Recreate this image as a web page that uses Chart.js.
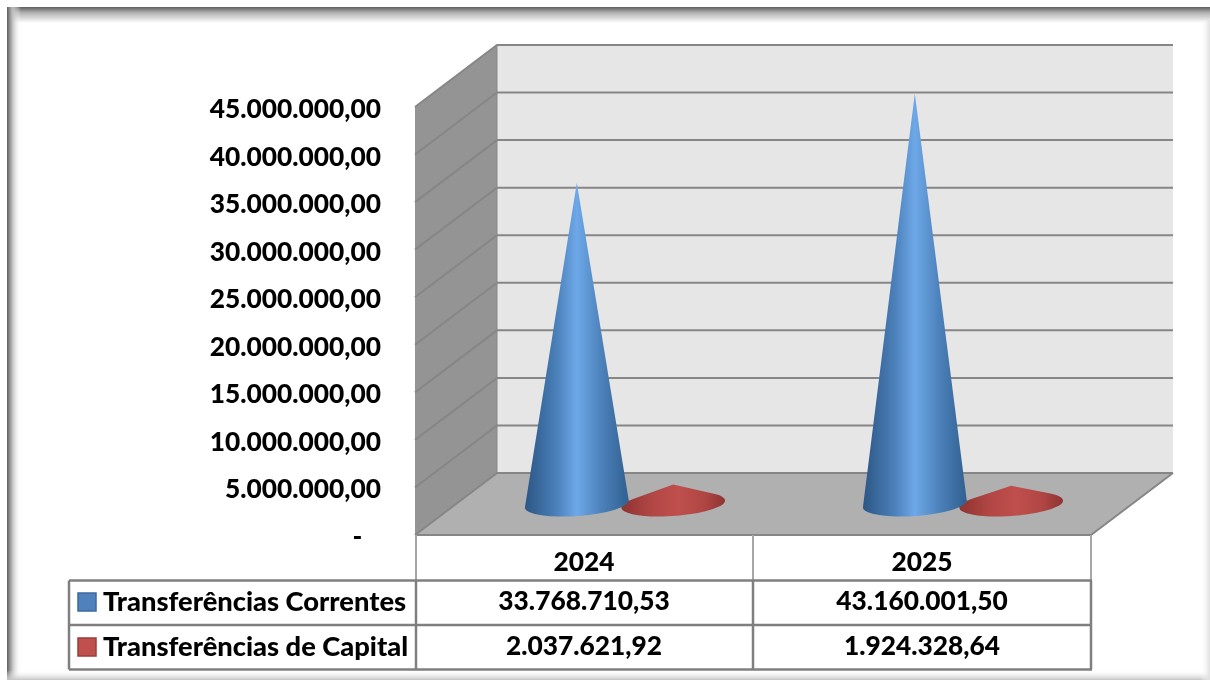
<!DOCTYPE html>
<html lang="pt">
<head>
<meta charset="utf-8">
<script src="https://cdn.jsdelivr.net/npm/chart.js@4"></script>
<style>
html,body{margin:0;padding:0;background:#fff;overflow:hidden}
#wrap{width:1210px;height:680px;position:relative}
canvas{display:block}
</style>
</head>
<body>
<div id="wrap"><canvas id="c" width="1210" height="680"></canvas></div>
<script>
const categories = ["2024", "2025"];
const seriesNames = ["Transferências Correntes", "Transferências de Capital"];
const correntes = [33768710.53, 43160001.50];
const capital = [2037621.92, 1924328.64];
const tickStep = 5000000;
const axisMax = 45000000;
const FONT = 'Lato, "Open Sans", sans-serif';
const depth = {x: 82, y: -62};
const gradStops = [
  [["#2c5684",0],["#4a7fb8",.3],["#6ea8e8",.5],["#4a7fb8",.75],["#30608f",1]],
  [["#8e3331",0],["#b24745",.3],["#bf4f4c",.55],["#b04644",.8],["#8e3433",1]]
];
function fmt(v){
  if(v===0) return "-\u00a0\u00a0\u00a0";
  const p = v.toFixed(2).split(".");
  return p[0].replace(/\B(?=(\d{3})+$)/g,".")+","+p[1];
}
function drawCone(ctx,cx,cy,rx,ry,apexY,stops){
  const rot = -4*Math.PI/180;
  const cs=Math.cos(-rot), sn=Math.sin(-rot);
  const dx=0, dy=apexY-cy;
  const lx=dx*cs-dy*sn, ly=dx*sn+dy*cs;
  const px=lx/rx, py=ly/ry, d=Math.hypot(px,py), base=Math.atan2(py,px), del=Math.acos(Math.min(1,1/d));
  const t1=base+del, t2=base-del+2*Math.PI;
  ctx.save();
  const g=ctx.createLinearGradient(cx-rx,0,cx+rx,0);
  stops.forEach(s=>g.addColorStop(s[1],s[0]));
  ctx.fillStyle=g;
  ctx.beginPath();
  ctx.ellipse(cx,cy,rx,ry,rot,t1,t2,false);
  ctx.lineTo(cx,apexY);
  ctx.closePath();
  ctx.fill();
  ctx.restore();
}
const scenePlugin = {
  id:"scene",
  afterLayout(chart){
    // the reference draws the value labels a little below their grid lines
    chart.scales.y.getLabelItems().forEach(it=>{it.options.translation[1]+=2.5;});
  },
  beforeDraw(chart){
    const c=chart.ctx, W=chart.width, H=chart.height;
    c.save();
    c.fillStyle="#fff"; c.fillRect(0,0,W,H);
    let g=c.createLinearGradient(0,7,0,23);
    g.addColorStop(0,"#5e5e5e"); g.addColorStop(.35,"#b0b0b0"); g.addColorStop(1,"#fff");
    c.fillStyle=g; c.fillRect(7,7,W-7,16);
    g=c.createLinearGradient(7,0,21,0);
    g.addColorStop(0,"#5e5e5e"); g.addColorStop(.35,"#b8b8b8"); g.addColorStop(1,"rgba(255,255,255,0)");
    c.fillStyle=g; c.fillRect(7,7,14,H-7);
    g=c.createLinearGradient(0,670,0,680);
    g.addColorStop(0,"rgba(255,255,255,0)"); g.addColorStop(1,"#c4c4c4");
    c.fillStyle=g; c.fillRect(7,670,W-7,10);
    g=c.createLinearGradient(1200,0,1210,0);
    g.addColorStop(0,"rgba(255,255,255,0)"); g.addColorStop(1,"#e0e0e0");
    c.fillStyle=g; c.fillRect(1200,20,10,660);
    c.fillStyle="#fff"; c.fillRect(0,0,7,H);

    const y=chart.scales.y, x=chart.scales.x;
    const L=chart.chartArea.left, R=chart.chartArea.right, T=y.getPixelForValue(axisMax), B=y.getPixelForValue(0);
    const dx=depth.x, dy=depth.y;
    c.fillStyle="#e6e6e6"; c.fillRect(L+dx,T+dy,R-L,B-T);
    c.fillStyle="#949494";
    c.beginPath(); c.moveTo(L,T); c.lineTo(L+dx,T+dy); c.lineTo(L+dx,B+dy); c.lineTo(L,B); c.closePath(); c.fill();
    c.fillStyle="#b0b0b0";
    c.beginPath(); c.moveTo(L,B); c.lineTo(L+dx,B+dy); c.lineTo(R+dx,B+dy); c.lineTo(R,B); c.closePath(); c.fill();
    c.lineWidth=2; c.strokeStyle="#868686";
    y.ticks.forEach(t=>{
      const p=y.getPixelForValue(t.value);
      c.beginPath(); c.moveTo(L,p); c.lineTo(L+dx,p+dy); c.lineTo(R+dx,p+dy); c.stroke();
    });
    c.beginPath(); c.moveTo(R,B); c.lineTo(R+dx,B+dy); c.stroke();
    c.beginPath(); c.moveTo(L,B); c.lineTo(R,B); c.stroke();
    c.lineWidth=1; c.strokeStyle="#888";
    c.beginPath(); c.moveTo(L+dx,T+dy); c.lineTo(L+dx,B+dy); c.stroke();

    const rows=[580.5,625,669.5], left=69;
    const mid=x.getPixelForValue(0)+(x.getPixelForValue(1)-x.getPixelForValue(0))/2;
    c.strokeStyle="#a6a6a6"; c.lineWidth=2;
    [L+1,mid,R].forEach(v=>{c.beginPath();c.moveTo(v,B);c.lineTo(v,rows[0]);c.stroke();});
    c.strokeStyle="#7f7f7f"; c.lineWidth=2.5;
    rows.forEach(r=>{c.beginPath();c.moveTo(left,r);c.lineTo(R+1,r);c.stroke();});
    [left,L+1,mid,R].forEach(v=>{c.beginPath();c.moveTo(v,rows[0]);c.lineTo(v,rows[2]);c.stroke();});
    c.restore();
  },
  afterDatasetsDraw(chart){
    const c=chart.ctx;
    const x=chart.scales.x;
    const dx=depth.x/2, dy=depth.y/2;
    [1,0].forEach(i=>{
      chart.getDatasetMeta(i).data.forEach(el=>{
        const cx=el.x+dx, cy=el.base+dy, rx=el.width*0.54;
        drawCone(c,cx,cy,rx,12,el.y+dy,gradStops[i]);
      });
    });
    c.save();
    c.fillStyle="#000"; c.textBaseline="middle";
    const rowY=[602,647], swY=[593,638];
    const swFill=["#4f81bd","#c0504d"], swLine=["#3d6a9e","#9c3d3b"];
    [correntes,capital].forEach((arr,i)=>{
      c.fillStyle=swFill[i]; c.strokeStyle=swLine[i]; c.lineWidth=1.5;
      c.fillRect(78,swY[i],18,18); c.strokeRect(78,swY[i],18,18);
      c.fillStyle="#000"; c.textAlign="left";
      c.font='900 27.3px '+FONT;
      c.fillText(seriesNames[i],103,rowY[i]);
      c.font='900 26.3px '+FONT;
      c.textAlign="center";
      arr.forEach((v,j)=>c.fillText(fmt(v),x.getPixelForValue(j),rowY[i]));
    });
    c.restore();
  }
};
new Chart(document.getElementById("c"),{
  type:"bar",
  data:{labels:categories,datasets:[
    {label:seriesNames[0],data:correntes,backgroundColor:"rgba(0,0,0,0)",borderWidth:0},
    {label:seriesNames[1],data:capital,backgroundColor:"rgba(0,0,0,0)",borderWidth:0}
  ]},
  plugins:[scenePlugin],
  options:{
    responsive:false,animation:false,
    layout:{padding:{top:107,right:119,bottom:0,left:0}},
    plugins:{legend:{display:false},tooltip:{enabled:false},title:{display:false}},
    datasets:{bar:{categoryPercentage:0.57,barPercentage:1}},
    scales:{
      x:{
        afterFit(s){s.height=145;},
        grid:{display:false},border:{display:false},
        ticks:{padding:4,color:"#000",font:{family:FONT,size:26.3,weight:"900"},maxRotation:0}
      },
      y:{
        min:0,max:axisMax,
        afterFit(s){s.width=415;},
        grid:{display:false,drawTicks:false},border:{display:false},
        ticks:{stepSize:tickStep,padding:34,color:"#000",font:{family:FONT,size:26.3,weight:"900"},callback:v=>fmt(v)}
      }
    }
  }
});
</script>
</body>
</html>
